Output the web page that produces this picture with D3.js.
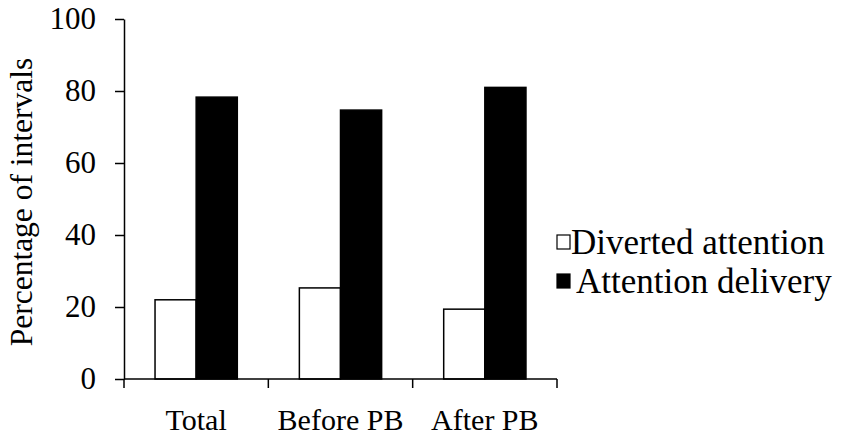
<!DOCTYPE html>
<html>
<head>
<meta charset="utf-8">
<script src="https://cdn.jsdelivr.net/npm/d3@7"></script>
<style>
  html, body { margin: 0; padding: 0; background: #fff; }
  svg { display: block; }
</style>
</head>
<body>
<svg id="chart" width="850" height="440"></svg>
<script>
const categories = ["Total", "Before PB", "After PB"];
const seriesNames = ["Diverted attention", "Attention delivery"];
const diverted = [22.0, 25.3, 19.4];
const delivery = [78.3, 74.7, 81.0];
const yTicks = [0, 20, 40, 60, 80, 100];

const svg = d3.select("#chart");
const fontSize = 30;
const legendFont = 35;
const FONT = "Liberation Serif";

const x0 = d3.scaleBand().domain(categories).range([124, 557]).paddingInner(0).paddingOuter(0);
const bw = x0.bandwidth();
const x1 = d3.scaleBand().domain(seriesNames).range([bw * 0.215, bw * 0.785]).padding(0);
const y = d3.scaleLinear().domain([0, 100]).range([379, 19]);

const data = categories.map((c, i) => ({ cat: c, vals: [diverted[i], delivery[i]] }));
const fills = ["#fff", "#000"];

const g = svg.append("g");
data.forEach(d => {
  d.vals.forEach((v, j) => {
    g.append("rect")
      .attr("x", x0(d.cat) + x1(seriesNames[j]))
      .attr("y", y(v))
      .attr("width", x1.bandwidth())
      .attr("height", y(0) - y(v))
      .attr("fill", fills[j])
      .attr("stroke", "#000")
      .attr("stroke-width", 1.5);
  });
});

// Y axis
const yAxis = d3.axisLeft(y).tickValues(yTicks).tickSize(9).tickPadding(19).tickSizeOuter(0);
const ya = svg.append("g").attr("transform", "translate(124,0)").call(yAxis)
  .attr("font-family", FONT).attr("font-size", 31);
ya.select(".domain").attr("stroke", "#000").attr("stroke-width", 1.5);
ya.selectAll(".tick line").attr("stroke", "#000").attr("stroke-width", 1.5);
ya.selectAll(".tick text").attr("fill", "#000").attr("font-family", FONT);

// X axis: ticks at band edges
const edges = categories.map(c => x0(c)).concat([x0.range()[1]]);
const xa = svg.append("g");
xa.append("line").attr("x1", 124).attr("x2", 557).attr("y1", y(0)).attr("y2", y(0))
  .attr("stroke", "#000").attr("stroke-width", 1.5);
xa.selectAll("line.tk").data(edges).enter().append("line").attr("class", "tk")
  .attr("x1", d => d).attr("x2", d => d).attr("y1", y(0)).attr("y2", y(0) + 9)
  .attr("stroke", "#000").attr("stroke-width", 1.5);
xa.selectAll("text").data(categories).enter().append("text")
  .attr("x", d => x0(d) + bw / 2).attr("y", 430)
  .attr("text-anchor", "middle").attr("font-family", FONT).attr("font-size", fontSize).text(d => d);

// Y title
svg.append("text")
  .attr("transform", "translate(32," + 202 + ") rotate(-90)")
  .attr("text-anchor", "middle").attr("font-family", FONT).attr("font-size", 31.5)
  .text("Percentage of intervals");

// Legend
const leg = svg.append("g");
const legY = [243, 282];
seriesNames.forEach((s, j) => {
  leg.append("rect").attr("x", 557).attr("y", legY[j] - 8).attr("width", 13).attr("height", 14)
    .attr("fill", fills[j]).attr("stroke", "#000").attr("stroke-width", 1.2);
  leg.append("text").attr("x", j === 0 ? 571 : 576).attr("y", legY[j] + 11)
    .attr("font-family", FONT).attr("font-size", legendFont).text(s);
});
</script>
</body>
</html>
